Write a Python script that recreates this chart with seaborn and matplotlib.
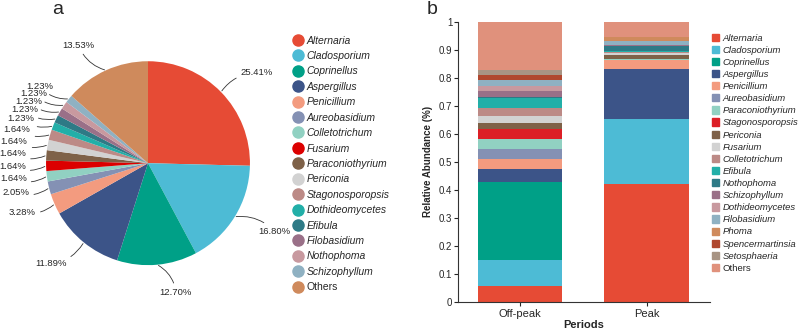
import numpy as np
import matplotlib
matplotlib.use("Agg")
import matplotlib.pyplot as plt
from matplotlib.lines import Line2D
from matplotlib.patches import Patch
from matplotlib.ticker import FuncFormatter, MultipleLocator
import seaborn as sns

# panel a: genera share (%)
pie_genera = ['Alternaria', 'Cladosporium', 'Coprinellus', 'Aspergillus', 'Penicillium',
              'Aureobasidium', 'Colletotrichum', 'Fusarium', 'Paraconiothyrium', 'Periconia',
              'Stagonosporopsis', 'Dothideomycetes', 'Efibula', 'Filobasidium', 'Nothophoma',
              'Schizophyllum', 'Others']
pie_share = [25.41, 16.80, 12.70, 11.89, 3.28, 2.05, 1.64, 1.64, 1.64, 1.64, 1.64,
             1.23, 1.23, 1.23, 1.23, 1.23, 13.53]
pie_colors = ['#E64B35', '#4DBBD5', '#00A087', '#3C5488', '#F39B7F', '#8491B4', '#91D1C2',
              '#DC0000', '#7E6148', '#D2D2D2', '#BC8A86', '#22AFA8', '#2E7A86', '#9A7088',
              '#C8999F', '#8FB1C2', '#CF8A5C']

# panel b: relative abundance per period
periods = ['Off-peak', 'Peak']
bar_genera = ['Alternaria', 'Cladosporium', 'Coprinellus', 'Aspergillus', 'Penicillium',
              'Aureobasidium', 'Paraconiothyrium', 'Stagonosporopsis', 'Periconia', 'Fusarium',
              'Colletotrichum', 'Efibula', 'Nothophoma', 'Schizophyllum', 'Dothideomycetes',
              'Filobasidium', 'Phoma', 'Spencermartinsia', 'Setosphaeria', 'Others']
offpeak = [0.056, 0.093, 0.280, 0.044, 0.037, 0.036, 0.036, 0.036, 0.019, 0.026,
           0.030, 0.036, 0.003, 0.020, 0.019, 0.020, 0.002, 0.018, 0.018, 0.171]
peak = [0.419, 0.232, 0.002, 0.179, 0.030, 0.003, 0.001, 0.001, 0.015, 0.008,
        0.002, 0.002, 0.021, 0.001, 0.001, 0.014, 0.013, 0.001, 0.001, 0.055]
bar_colors = ['#E64B35', '#4DBBD5', '#00A087', '#3C5488', '#F39B7F', '#8491B4', '#91D1C2',
              '#DC1F26', '#7E6148', '#D2D2D2', '#BC8A86', '#22AFA8', '#2E7A86', '#9A7088',
              '#C8999F', '#8FB1C2', '#CF8A5C', '#B0482F', '#A89484', '#E0917C']

sns.set_style("ticks")
plt.rcParams['font.family'] = ['Liberation Sans', 'DejaVu Sans']

fig = plt.figure(figsize=(8, 3.31), dpi=100)

# ---- a: pie ----
ax1 = fig.add_axes([0.0575, 0.199, 0.255, 0.616])
wedges, _ = ax1.pie(pie_share, colors=pie_colors, startangle=90, counterclock=False,
                    wedgeprops=dict(linewidth=0))
ax1.set_xlim(-1, 1)
ax1.set_ylim(-1, 1)
ax1.set_aspect('equal')
ax1.axis('off')

for w, val in zip(wedges, pie_share):
    ang = np.deg2rad((w.theta1 + w.theta2) / 2)
    c, s = np.cos(ang), np.sin(ang)
    r = 1.27 if val > 5 else 1.2
    ax1.annotate(f"{val:.2f}%", xy=(c, s), xytext=(r * c, r * s),
                 ha='left' if c > 0 else 'right', va='center', fontsize=6.8,
                 annotation_clip=False,
                 arrowprops=dict(arrowstyle='-', lw=0.6, color='#333333',
                                 connectionstyle='arc3,rad=0.25', shrinkA=1, shrinkB=1))

pie_handles = [Line2D([], [], marker='o', linestyle='', markersize=8,
                      markerfacecolor=col, markeredgecolor=col) for col in pie_colors]
leg1 = fig.legend(pie_handles, pie_genera, loc='upper left', bbox_to_anchor=(0.36, 0.905),
                  frameon=False, fontsize=7.5, labelspacing=0.52, handletextpad=0.2,
                  handlelength=1.2, borderaxespad=0)
for t in leg1.get_texts():
    if t.get_text() != 'Others':
        t.set_style('italic')

# ---- b: stacked bars ----
ax2 = fig.add_axes([0.5725, 0.0885, 0.315, 0.8459])
cum_off = np.cumsum(offpeak)
cum_peak = np.cumsum(peak)
for i in reversed(range(len(bar_genera))):
    sns.barplot(x=periods, y=[cum_off[i], cum_peak[i]], color=bar_colors[i],
                saturation=1, width=0.67, ax=ax2, linewidth=0)
ax2.set_xlim(-0.49, 1.5)
ax2.set_ylim(0, 1)
ax2.yaxis.set_major_locator(MultipleLocator(0.1))
ax2.yaxis.set_major_formatter(FuncFormatter(lambda v, p: f"{v:.1f}".rstrip('0').rstrip('.') if v else "0"))
ax2.tick_params(axis='y', labelsize=7, length=3, width=0.8, pad=1)
ax2.tick_params(axis='x', labelsize=8, length=3, width=0.8, pad=2)
for sp in ['top', 'right']:
    ax2.spines[sp].set_visible(False)
for sp in ['left', 'bottom']:
    ax2.spines[sp].set_linewidth(0.8)
    ax2.spines[sp].set_color('#333333')
ax2.set_ylabel('Relative Abundance (%)', fontsize=7, fontweight='bold', labelpad=4)
ax2.set_xlabel('Periods', fontsize=8, fontweight='bold', labelpad=1)

bar_handles = [Patch(facecolor=col, edgecolor=col) for col in bar_colors]
leg2 = fig.legend(bar_handles, bar_genera, loc='upper left', bbox_to_anchor=(0.885, 0.91),
                  frameon=False, fontsize=6.8, labelspacing=0.33, handletextpad=0.35,
                  handlelength=0.8, handleheight=0.8, borderaxespad=0)
for t in leg2.get_texts():
    if t.get_text() != 'Others':
        t.set_style('italic')

fig.text(0.072, 0.97, 'a', fontsize=14, va='center', ha='center')
fig.text(0.54, 0.97, 'b', fontsize=14, va='center', ha='center')

fig.savefig('out.png', dpi=100)
